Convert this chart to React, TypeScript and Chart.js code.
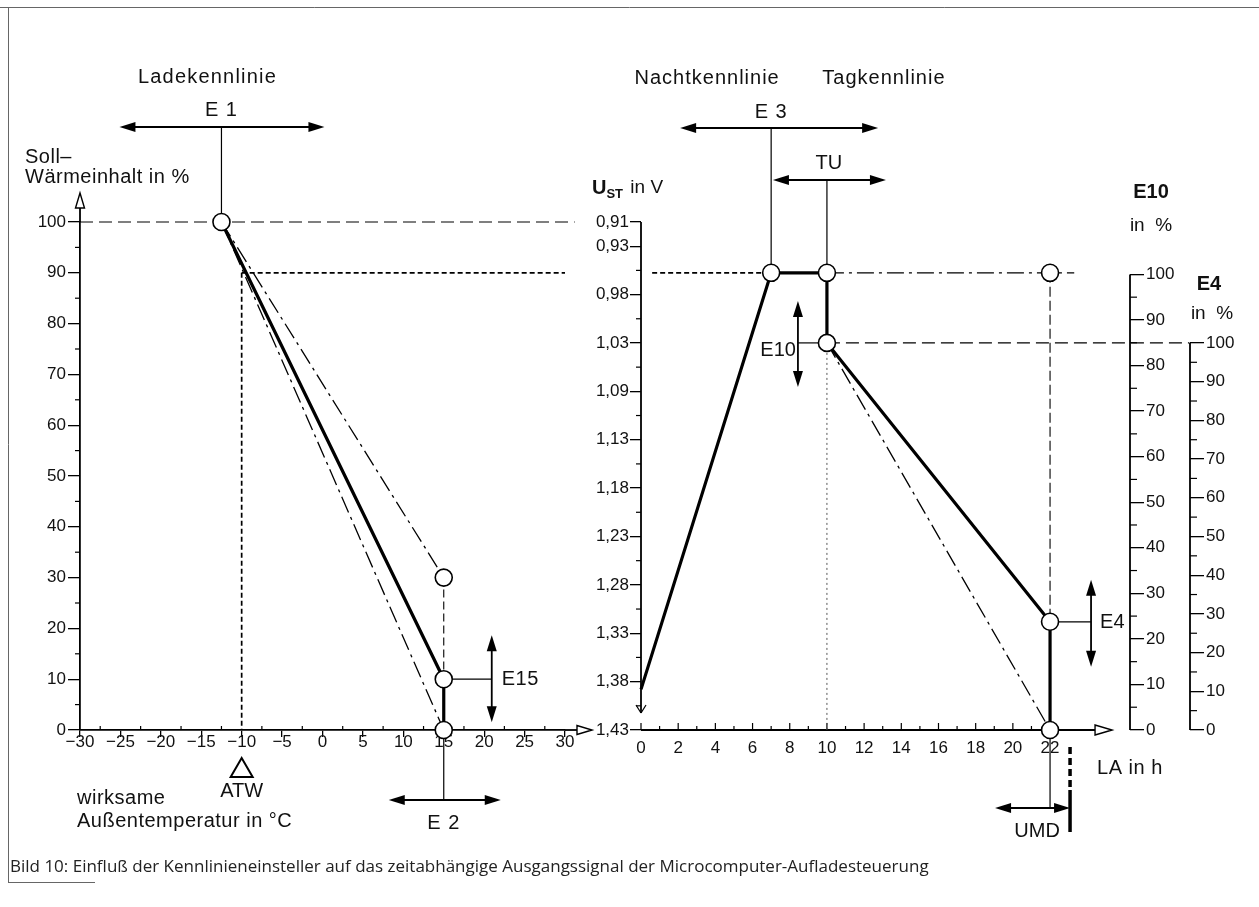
import React, { useEffect, useRef } from 'react';
import { Chart, registerables } from 'chart.js';

Chart.register(...registerables);

const W = 1259;
const H = 907;
const SANS = "'Liberation Sans', Arial, Helvetica, sans-serif";
const INK = '#111';

// ---------- left panel: Ladekennlinie ----------
const TEMP_TICKS = [-30, -25, -20, -15, -10, -5, 0, 5, 10, 15, 20, 25, 30];
const TEMP_MINOR = [-27.5, -22.5, -17.5, -12.5, -7.5, -2.5, 2.5, 7.5, 12.5, 17.5, 22.5, 27.5];
const HEAT_TICKS = [0, 10, 20, 30, 40, 50, 60, 70, 80, 90, 100];
const HEAT_MINOR = [5, 15, 25, 35, 45, 55, 65, 75, 85, 95];
const ATW_TEMP = -10;
const LADE_MAIN = [{ x: -12.5, y: 100 }, { x: 15, y: 10 }, { x: 15, y: 0 }];
const LADE_UPPER = [{ x: -12.5, y: 100 }, { x: 15, y: 30 }];
const LADE_LOWER = [{ x: -12.5, y: 100 }, { x: 15, y: 0 }];
const E15_SPAN = [{ x: 15, y: 30 }, { x: 15, y: 10 }];
const FULL_LEVEL = [{ x: -30, y: 100 }, { x: 31.2, y: 100 }];
const ATW_LEVEL = [{ x: -10, y: 90 }, { x: 30, y: 90 }];
const ATW_DROP = [{ x: -10, y: 90 }, { x: -10, y: 0 }];
const LADE_NODES = [{ x: -12.5, y: 100 }, { x: 15, y: 30 }, { x: 15, y: 10 }, { x: 15, y: 0 }];

// ---------- right panel: Nacht-/Tagkennlinie ----------
const HOUR_TICKS = [0, 2, 4, 6, 8, 10, 12, 14, 16, 18, 20, 22];
const HOUR_MINOR = [1, 3, 5, 7, 9, 11, 13, 15, 17, 19, 21];
const UST_DIVISIONS = 21;
const UST_STEPS = [0, 2, 4, 6, 8, 10, 12, 14, 16, 18, 20, 21];
const UST_LABELS = ['1,43', '1,38', '1,33', '1,28', '1,23', '1,18', '1,13', '1,09', '1,03', '0,98', '0,93', '0,91'];
const UST_MINOR = [1, 3, 5, 7, 9, 11, 13, 15, 17, 19];
const E10_TICKS = [0, 10, 20, 30, 40, 50, 60, 70, 80, 90, 100];
const E4_TICKS = [0, 10, 20, 30, 40, 50, 60, 70, 80, 90, 100];
const PCT_MINOR = [5, 15, 25, 35, 45, 55, 65, 75, 85, 95];
const NACHT_TAG_MAIN = [
  { x: 0, y: 8 }, { x: 7, y: 90 }, { x: 10, y: 90 }, { x: 10, y: 76.2 }, { x: 22, y: 21.3 }, { x: 22, y: 0 },
];
const TAG_UPPER = [{ x: 10, y: 90 }, { x: 22, y: 90 }, { x: 23.3, y: 90 }];
const TAG_LOWER = [{ x: 10, y: 76.2 }, { x: 22, y: 0 }];
const NACHT_REF = [{ x: 0.6, y: 90 }, { x: 7, y: 90 }];
const E10_LEVEL = [{ x: 10, y: 76.2 }, { x: 29.5, y: 76.2 }];
const E4_SPAN = [{ x: 22, y: 90 }, { x: 22, y: 21.3 }];
const TU_DROP = [{ x: 10, y: 76.2 }, { x: 10, y: 0 }];
const NACHT_TAG_NODES = [
  { x: 7, y: 90 }, { x: 10, y: 90 }, { x: 10, y: 76.2 }, { x: 22, y: 90 }, { x: 22, y: 21.3 }, { x: 22, y: 0 },
];

const CAPTION =
  'Bild 10: Einflu\u00df der Kennlinieneinsteller auf das zeitabh\u00e4ngige Ausgangssignal der Microcomputer-Aufladesteuerung';

const DASH_DOT = [17, 5, 3, 5];
const NODE_R = 8.5;

// ---------- drawing helpers ----------
function seg(ctx: CanvasRenderingContext2D, x1: number, y1: number, x2: number, y2: number, w = 1.2, dash: number[] = [], color = '#000') {
  ctx.save();
  ctx.beginPath();
  ctx.setLineDash(dash);
  ctx.lineWidth = w;
  ctx.strokeStyle = color;
  ctx.moveTo(x1, y1);
  ctx.lineTo(x2, y2);
  ctx.stroke();
  ctx.restore();
}

function head(ctx: CanvasRenderingContext2D, tx: number, ty: number, ux: number, uy: number, len = 16, hw = 5, open = false) {
  const bx = tx - ux * len;
  const by = ty - uy * len;
  const px = -uy;
  const py = ux;
  ctx.save();
  ctx.beginPath();
  ctx.moveTo(tx, ty);
  ctx.lineTo(bx + px * hw, by + py * hw);
  ctx.lineTo(bx - px * hw, by - py * hw);
  ctx.closePath();
  if (open) {
    ctx.fillStyle = '#fff';
    ctx.fill();
    ctx.lineWidth = 1.4;
    ctx.strokeStyle = '#000';
    ctx.stroke();
  } else {
    ctx.fillStyle = '#000';
    ctx.fill();
  }
  ctx.restore();
}

function dblH(ctx: CanvasRenderingContext2D, x1: number, x2: number, y: number) {
  seg(ctx, x1 + 8, y, x2 - 8, y, 1.8);
  head(ctx, x1, y, -1, 0);
  head(ctx, x2, y, 1, 0);
}

function dblV(ctx: CanvasRenderingContext2D, x: number, y1: number, y2: number) {
  seg(ctx, x, y1 + 8, x, y2 - 8, 1.8);
  head(ctx, x, y1, 0, -1);
  head(ctx, x, y2, 0, 1);
}

function label(ctx: CanvasRenderingContext2D, s: string, x: number, y: number, align: CanvasTextAlign = 'center', size = 20, weight = 'normal', spacing = 0) {
  ctx.save();
  ctx.font = `${weight} ${size}px ${SANS}`;
  ctx.fillStyle = INK;
  ctx.textAlign = align;
  ctx.textBaseline = 'middle';
  (ctx as any).letterSpacing = `${spacing}px`;
  ctx.fillText(s, x, y);
  ctx.restore();
}

function lineDs(data: { x: number; y: number }[], width: number, dash: number[] = [], color = '#000') {
  return {
    type: 'line',
    data,
    borderColor: color,
    borderWidth: width,
    borderDash: dash,
    pointRadius: 0,
    fill: false,
    tension: 0,
    clip: false,
    order: 2,
  };
}

function nodeDs(data: { x: number; y: number }[]) {
  return {
    type: 'line',
    data,
    showLine: false,
    pointRadius: NODE_R,
    pointBackgroundColor: '#fff',
    pointBorderColor: '#000',
    pointBorderWidth: 1.6,
    clip: false,
    order: 0,
  };
}

const tickFont = { family: SANS, size: 17, lineHeight: 1 };

// ---------- left chart decorations ----------
const leftDecor = {
  id: 'leftDecor',
  beforeDatasetsDraw(chart: any) {
    const ctx: CanvasRenderingContext2D = chart.ctx;
    const xs = chart.scales.x;
    const ys = chart.scales.y;
    const X = (v: number) => xs.getPixelForValue(v);
    const Y = (v: number) => ys.getPixelForValue(v);

    // page frame
    ctx.save();
    ctx.strokeStyle = '#666';
    ctx.lineWidth = 1;
    ctx.beginPath();
    ctx.moveTo(0, 7.5);
    ctx.lineTo(W, 7.5);
    ctx.moveTo(8.5, 7);
    ctx.lineTo(8.5, 882);
    ctx.moveTo(8, 882.5);
    ctx.lineTo(95, 882.5);
    ctx.stroke();
    ctx.restore();

    // minor ticks
    TEMP_MINOR.forEach((v) => seg(ctx, X(v), Y(0), X(v), Y(0) - 4, 1.2));
    HEAT_MINOR.forEach((v) => seg(ctx, X(-30), Y(v), X(-30) - 5, Y(v), 1.2));

    // axis arrow heads
    seg(ctx, X(30), Y(0), X(30) + 13, Y(0), 1.8);
    head(ctx, X(30) + 27, Y(0), 1, 0, 15, 4.5, true);
    seg(ctx, X(-30), Y(100), X(-30), Y(100) - 15, 1.8);
    head(ctx, X(-30), Y(100) - 29, 0, -1, 15, 4.5, true);

    // axis titles
    label(ctx, 'Soll\u2013', 25, 157, 'left', 20, 'normal', 0.5);
    label(ctx, 'W\u00e4rmeinhalt in %', 25, 177, 'left', 20, 'normal', 0.5);
    label(ctx, 'wirksame', 77, 798, 'left', 20, 'normal', 0.5);
    label(ctx, 'Au\u00dfentemperatur in \u00b0C', 77, 821, 'left', 20, 'normal', 0.5);

    // E1 / Ladekennlinie
    const e1 = X(LADE_NODES[0].x);
    seg(ctx, e1, Y(100) - NODE_R, e1, 127, 1.2);
    dblH(ctx, e1 - 102, e1 + 103, 127);
    label(ctx, 'E 1', e1, 110, 'center', 20, 'normal', 1);
    label(ctx, 'Ladekennlinie', e1 - 14, 77, 'center', 20, 'normal', 1.2);

    // ATW marker
    const atw = X(ATW_TEMP);
    ctx.save();
    ctx.beginPath();
    ctx.moveTo(atw, 758);
    ctx.lineTo(atw - 11, 777);
    ctx.lineTo(atw + 11, 777);
    ctx.closePath();
    ctx.lineWidth = 2;
    ctx.strokeStyle = '#000';
    ctx.stroke();
    ctx.restore();
    label(ctx, 'ATW', atw, 791, 'center', 20);

    // E15
    const n15 = X(15);
    const y10 = Y(10);
    seg(ctx, n15 + NODE_R, y10, n15 + 48, y10, 1.2);
    dblV(ctx, n15 + 48, y10 - 44, y10 + 43);
    label(ctx, 'E15', n15 + 58, y10, 'left', 20, 'normal', 0.5);

    // E2
    seg(ctx, n15, Y(0) + NODE_R, n15, 800, 1.2);
    dblH(ctx, n15 - 55, n15 + 57, 800);
    label(ctx, 'E 2', n15, 823, 'center', 20, 'normal', 1);
  },
};

// ---------- right chart decorations ----------
const rightDecor = {
  id: 'rightDecor',
  beforeDatasetsDraw(chart: any) {
    const ctx: CanvasRenderingContext2D = chart.ctx;
    const xs = chart.scales.x;
    const ys = chart.scales.y;
    const e10 = chart.scales.e10;
    const e4 = chart.scales.e4;
    const X = (v: number) => xs.getPixelForValue(v);
    const Y = (v: number) => ys.getPixelForValue(v);
    const step = (k: number) => Y((k * 100) / UST_DIVISIONS);

    // U_ST axis with down arrow
    const x0 = X(0);
    const tipY = Y(0) - 17;
    seg(ctx, x0, ys.top, x0, tipY, 1.8);
    seg(ctx, x0 - 5, tipY - 8, x0, tipY, 1.2);
    seg(ctx, x0 + 5, tipY - 8, x0, tipY, 1.2);
    UST_MINOR.forEach((k) => seg(ctx, x0, step(k), x0 - 5, step(k), 1.2));

    // time axis with open arrow
    seg(ctx, x0, Y(0), X(22) + 46, Y(0), 1.8);
    head(ctx, X(22) + 62, Y(0), 1, 0, 17, 5, true);
    HOUR_TICKS.forEach((v) => seg(ctx, X(v), Y(0), X(v), Y(0) - 7, 1.2));
    HOUR_MINOR.forEach((v) => seg(ctx, X(v), Y(0), X(v), Y(0) - 4, 1.2));

    // E10 / E4 percentage axes
    seg(ctx, e10.left, e10.getPixelForValue(0), e10.left, e10.getPixelForValue(100), 1.8);
    seg(ctx, e4.left, e4.getPixelForValue(0), e4.left, e4.getPixelForValue(100), 1.8);
    PCT_MINOR.forEach((v) => {
      seg(ctx, e10.left, e10.getPixelForValue(v), e10.left + 7, e10.getPixelForValue(v), 1.2);
      seg(ctx, e4.left, e4.getPixelForValue(v), e4.left + 7, e4.getPixelForValue(v), 1.2);
    });
    label(ctx, 'E10', e10.left + 21, 192, 'center', 20, 'bold');
    label(ctx, 'in  %', e10.left + 21, 226, 'center', 19);
    label(ctx, 'E4', e4.left + 19, 284, 'center', 20, 'bold');
    label(ctx, 'in  %', e4.left + 22, 314, 'center', 19);

    // U_ST in V title
    ctx.save();
    ctx.fillStyle = INK;
    ctx.textBaseline = 'middle';
    ctx.textAlign = 'left';
    let tx = 592;
    ctx.font = `bold 20px ${SANS}`;
    ctx.fillText('U', tx, 188);
    tx += ctx.measureText('U').width;
    ctx.font = `bold 13px ${SANS}`;
    ctx.fillText('ST', tx, 194);
    tx += ctx.measureText('ST').width + 2;
    ctx.font = `normal 19px ${SANS}`;
    ctx.fillText(' in V', tx, 188);
    ctx.restore();

    // titles
    label(ctx, 'Nachtkennlinie', X(7) - 64, 78, 'center', 20, 'normal', 1);
    label(ctx, 'Tagkennlinie', X(10) + 57, 78, 'center', 20, 'normal', 1);

    // E3
    const n7 = X(7);
    seg(ctx, n7, Y(90) - NODE_R, n7, 128, 1.2);
    dblH(ctx, n7 - 91, n7 + 107, 128);
    label(ctx, 'E 3', n7, 112, 'center', 20, 'normal', 1);

    // TU
    const n10 = X(10);
    seg(ctx, n10, Y(90) - NODE_R, n10, 180, 1.2);
    dblH(ctx, n10 - 54, n10 + 59, 180);
    label(ctx, 'TU', n10 + 2, 163, 'center', 20);

    // E10 adjuster
    const ye = Y(76.2);
    seg(ctx, n10 - NODE_R, ye, n10 - 29, ye, 1.2);
    dblV(ctx, n10 - 29, ye - 42, ye + 44);
    label(ctx, 'E10', n10 - 31, ye + 8, 'right', 20);

    // E4 adjuster
    const n22 = X(22);
    const y4 = Y(21.3);
    seg(ctx, n22 + NODE_R, y4, n22 + 41, y4, 1.2);
    dblV(ctx, n22 + 41, y4 - 42, y4 + 45);
    label(ctx, 'E4', n22 + 50, y4 + 1, 'left', 20);

    // UMD
    seg(ctx, n22, Y(0) + NODE_R, n22, 808, 1.2);
    dblH(ctx, n22 - 55, n22 + 20, 808);
    seg(ctx, n22 + 20, 747, n22 + 20, 790, 3.5, [7, 4]);
    seg(ctx, n22 + 20, 790, n22 + 20, 832, 3.5);
    label(ctx, 'UMD', n22 - 13, 831, 'center', 20);
    label(ctx, 'LA in h', n22 + 47, 768, 'left', 20, 'normal', 0.5);
  },
};

function leftConfig(): any {
  return {
    type: 'line',
    data: {
      datasets: [
        nodeDs(LADE_NODES),
        lineDs(LADE_MAIN, 3.2),
        lineDs(LADE_UPPER, 1.3, DASH_DOT),
        lineDs(LADE_LOWER, 1.3, DASH_DOT),
        lineDs(E15_SPAN, 1.1, [8, 4]),
        lineDs(FULL_LEVEL, 1.2, [13, 6]),
        lineDs(ATW_LEVEL, 1.7, [5, 3]),
        lineDs(ATW_DROP, 1.7, [5, 3]),
      ],
    },
    options: {
      responsive: false,
      animation: false,
      events: [],
      layout: { padding: { left: 10, right: W - 565, top: 222, bottom: 0 } },
      plugins: { legend: { display: false }, tooltip: { enabled: false } },
      scales: {
        x: {
          type: 'linear',
          position: 'bottom',
          min: -30,
          max: 30,
          afterBuildTicks: (s: any) => {
            s.ticks = TEMP_TICKS.map((v) => ({ value: v }));
          },
          afterFit: (s: any) => {
            s.height = H - 730;
            s.paddingLeft = 0;
            s.paddingRight = 0;
          },
          ticks: {
            autoSkip: false,
            maxRotation: 0,
            color: INK,
            font: tickFont,
            padding: -3,
            callback: (v: number) => (v < 0 ? '\u2212' + Math.abs(v) : String(v)),
          },
          grid: { drawOnChartArea: false, drawTicks: true, tickLength: 7, color: '#000', lineWidth: 1.3 },
          border: { display: true, color: '#000', width: 1.8 },
        },
        y: {
          type: 'linear',
          position: 'left',
          min: 0,
          max: 100,
          afterBuildTicks: (s: any) => {
            s.ticks = HEAT_TICKS.map((v) => ({ value: v }));
          },
          afterFit: (s: any) => {
            s.width = 70;
            s.paddingTop = 0;
            s.paddingBottom = 0;
          },
          ticks: { autoSkip: false, color: INK, font: tickFont, padding: 2, callback: (v: number) => String(v) },
          grid: { drawOnChartArea: false, drawTicks: true, tickLength: 12, color: '#000', lineWidth: 1.3 },
          border: { display: true, color: '#000', width: 1.8 },
        },
      },
    },
    plugins: [leftDecor],
  };
}

function rightConfig(): any {
  return {
    type: 'line',
    data: {
      datasets: [
        nodeDs(NACHT_TAG_NODES),
        lineDs(NACHT_TAG_MAIN, 3.2),
        lineDs(TAG_UPPER, 1.3, DASH_DOT),
        lineDs(TAG_LOWER, 1.3, DASH_DOT),
        lineDs(NACHT_REF, 1.7, [5, 3]),
        lineDs(E10_LEVEL, 1.2, [13, 6]),
        lineDs(E4_SPAN, 1.1, [10, 4]),
        lineDs(TU_DROP, 1, [2, 3], '#555'),
      ],
    },
    options: {
      responsive: false,
      animation: false,
      events: [],
      layout: { padding: { left: 560, right: 0, top: 222, bottom: 0 } },
      plugins: { legend: { display: false }, tooltip: { enabled: false } },
      scales: {
        x: {
          type: 'linear',
          position: 'bottom',
          min: 0,
          max: 26.3,
          afterBuildTicks: (s: any) => {
            s.ticks = HOUR_TICKS.map((v) => ({ value: v }));
          },
          afterFit: (s: any) => {
            s.height = H - 730;
            s.paddingLeft = 0;
            s.paddingRight = 0;
          },
          ticks: { autoSkip: false, maxRotation: 0, color: INK, font: tickFont, padding: 9.5, callback: (v: number) => String(v) },
          grid: { drawOnChartArea: false, drawTicks: false },
          border: { display: false },
        },
        y: {
          type: 'linear',
          position: 'left',
          min: 0,
          max: 100,
          afterBuildTicks: (s: any) => {
            s.ticks = UST_STEPS.map((k) => ({ value: (k * 100) / UST_DIVISIONS }));
          },
          afterFit: (s: any) => {
            s.width = 81;
            s.paddingTop = 0;
            s.paddingBottom = 0;
          },
          ticks: { autoSkip: false, color: INK, font: tickFont, padding: 1, callback: (_v: number, i: number) => UST_LABELS[i] },
          grid: { drawOnChartArea: false, drawTicks: true, tickLength: 11, color: '#000', lineWidth: 1.3 },
          border: { display: false },
        },
        e10: {
          type: 'linear',
          position: 'right',
          weight: 0,
          min: 0,
          max: 111.5,
          afterBuildTicks: (s: any) => {
            s.ticks = E10_TICKS.map((v) => ({ value: v }));
          },
          afterFit: (s: any) => {
            s.width = 60;
            s.paddingTop = 0;
            s.paddingBottom = 0;
          },
          ticks: { autoSkip: false, color: INK, font: tickFont, padding: 2, callback: (v: number) => String(v) },
          grid: { drawOnChartArea: false, drawTicks: true, tickLength: 14, color: '#000', lineWidth: 1.3 },
          border: { display: false },
        },
        e4: {
          type: 'linear',
          position: 'right',
          weight: 1,
          min: 0,
          max: 131.25,
          afterBuildTicks: (s: any) => {
            s.ticks = E4_TICKS.map((v) => ({ value: v }));
          },
          afterFit: (s: any) => {
            s.width = 69;
            s.paddingTop = 0;
            s.paddingBottom = 0;
          },
          ticks: { autoSkip: false, color: INK, font: tickFont, padding: 2, callback: (v: number) => String(v) },
          grid: { drawOnChartArea: false, drawTicks: true, tickLength: 14, color: '#000', lineWidth: 1.3 },
          border: { display: false },
        },
      },
    },
    plugins: [rightDecor],
  };
}

export default function App() {
  const leftRef = useRef<HTMLCanvasElement>(null);
  const rightRef = useRef<HTMLCanvasElement>(null);

  useEffect(() => {
    const left = new Chart(leftRef.current as HTMLCanvasElement, leftConfig());
    const right = new Chart(rightRef.current as HTMLCanvasElement, rightConfig());
    return () => {
      left.destroy();
      right.destroy();
    };
  }, []);

  const layer: React.CSSProperties = { position: 'absolute', left: 0, top: 0 };

  return (
    <div style={{ position: 'absolute', left: 0, top: 0, width: W, height: H, background: '#fff', overflow: 'hidden' }}>
      <canvas ref={leftRef} width={W} height={H} style={layer} />
      <canvas ref={rightRef} width={W} height={H} style={layer} />
      <div
        style={{
          position: 'absolute',
          left: 10,
          top: 854,
          fontFamily: "'Open Sans', sans-serif",
          fontSize: 17,
          lineHeight: '24px',
          color: '#222',
          whiteSpace: 'nowrap',
        }}
      >
        {CAPTION}
      </div>
    </div>
  );
}
